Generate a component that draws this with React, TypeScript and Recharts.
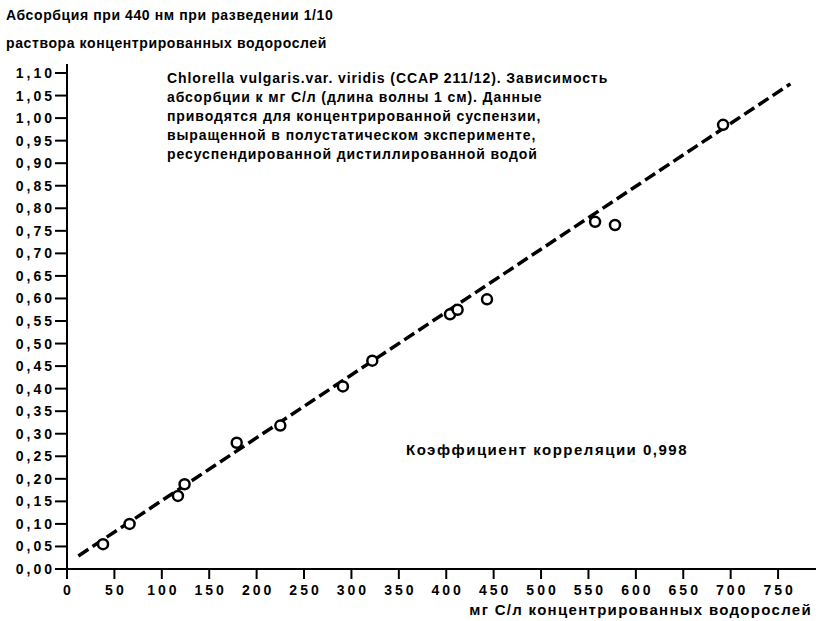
import React from 'react';
import { ScatterChart, Scatter, XAxis, YAxis, ReferenceLine } from 'recharts';

// measured points: mg C/l vs absorbance at 440 nm
const concentration = [38, 66, 117, 124, 179, 225, 291, 322, 404, 412, 443, 557, 578, 692];
const absorbance = [0.055, 0.1, 0.162, 0.188, 0.28, 0.318, 0.405, 0.462, 0.565, 0.575, 0.598, 0.77, 0.763, 0.985];

// dashed regression line, ends
const trendLine = [
  { x: 12, y: 0.029 },
  { x: 763, y: 1.076 },
];

const xTicks = [0, 50, 100, 150, 200, 250, 300, 350, 400, 450, 500, 550, 600, 650, 700, 750];
const yTicks = [0, 0.05, 0.1, 0.15, 0.2, 0.25, 0.3, 0.35, 0.4, 0.45, 0.5, 0.55, 0.6, 0.65, 0.7, 0.75, 0.8, 0.85, 0.9, 0.95, 1.0, 1.05, 1.1];

const titleLines = ['Абсорбция при 440 нм при разведении 1/10', 'раствора концентрированных водорослей'];
const noteLines = [
  'Chlorella vulgaris.var. viridis (CCAP 211/12). Зависимость',
  'абсорбции к мг С/л (длина волны 1 см). Данные',
  'приводятся для концентрированной суспензии,',
  'выращенной в полустатическом эксперименте,',
  'ресуспендированной дистиллированной водой',
];
const correlationText = 'Коэффициент корреляции 0,998';
const xAxisTitle = 'мг С/л концентрированных водорослей';

const points = concentration.map((x, i) => ({ x, y: absorbance[i] }));

const font = '"Liberation Sans", Arial, sans-serif';
const tickStyle = { fill: '#000', fontSize: 14, fontWeight: 700, fontFamily: font, letterSpacing: 3 };
const textStyle: React.CSSProperties = {
  position: 'absolute',
  fontFamily: font,
  fontWeight: 700,
  color: '#000',
  whiteSpace: 'nowrap',
};

const Ring = (props: any) => (
  <circle cx={props.cx} cy={props.cy} r={5} fill="#fff" stroke="#000" strokeWidth={2.5} />
);

export default function App() {
  return (
    <div style={{ position: 'absolute', left: 0, top: 0, width: 816, height: 621, background: '#fff' }}>
      <ScatterChart width={816} height={621} margin={{ top: 64, right: 0, bottom: 0, left: 0 }}>
        <XAxis
          type="number"
          dataKey="x"
          domain={[0, 790]}
          ticks={xTicks}
          height={52}
          tickSize={10}
          tickMargin={6}
          axisLine={{ stroke: '#000', strokeWidth: 2 }}
          tickLine={{ stroke: '#000', strokeWidth: 2 }}
          tick={{ ...tickStyle, dx: 1.5 }}
        />
        <YAxis
          type="number"
          dataKey="y"
          domain={[0, 1.12]}
          ticks={yTicks}
          width={67}
          tickSize={12}
          tickMargin={0}
          interval={0}
          tickFormatter={(v: number) => v.toFixed(2).replace('.', ',')}
          axisLine={{ stroke: '#000', strokeWidth: 2 }}
          tickLine={{ stroke: '#000', strokeWidth: 2 }}
          tick={tickStyle}
        />
        <ReferenceLine
          segment={trendLine}
          stroke="#000"
          strokeWidth={3.5}
          strokeDasharray="12 5"
          ifOverflow="visible"
        />
        <Scatter data={points} shape={Ring} isAnimationActive={false} />
      </ScatterChart>

      {titleLines.map((t, i) => (
        <div key={t} style={{ ...textStyle, left: 6, top: 7 + i * 28, fontSize: 14, letterSpacing: 0.6 }}>
          {t}
        </div>
      ))}
      {noteLines.map((t, i) => (
        <div key={t} style={{ ...textStyle, left: 167, top: 70 + i * 19, fontSize: 14, letterSpacing: 0.9 }}>
          {t}
        </div>
      ))}
      <div style={{ ...textStyle, left: 406, top: 441, fontSize: 15, letterSpacing: 1.5 }}>{correlationText}</div>
      <div style={{ ...textStyle, right: 4, top: 601, fontSize: 15, letterSpacing: 1.3 }}>{xAxisTitle}</div>
    </div>
  );
}
